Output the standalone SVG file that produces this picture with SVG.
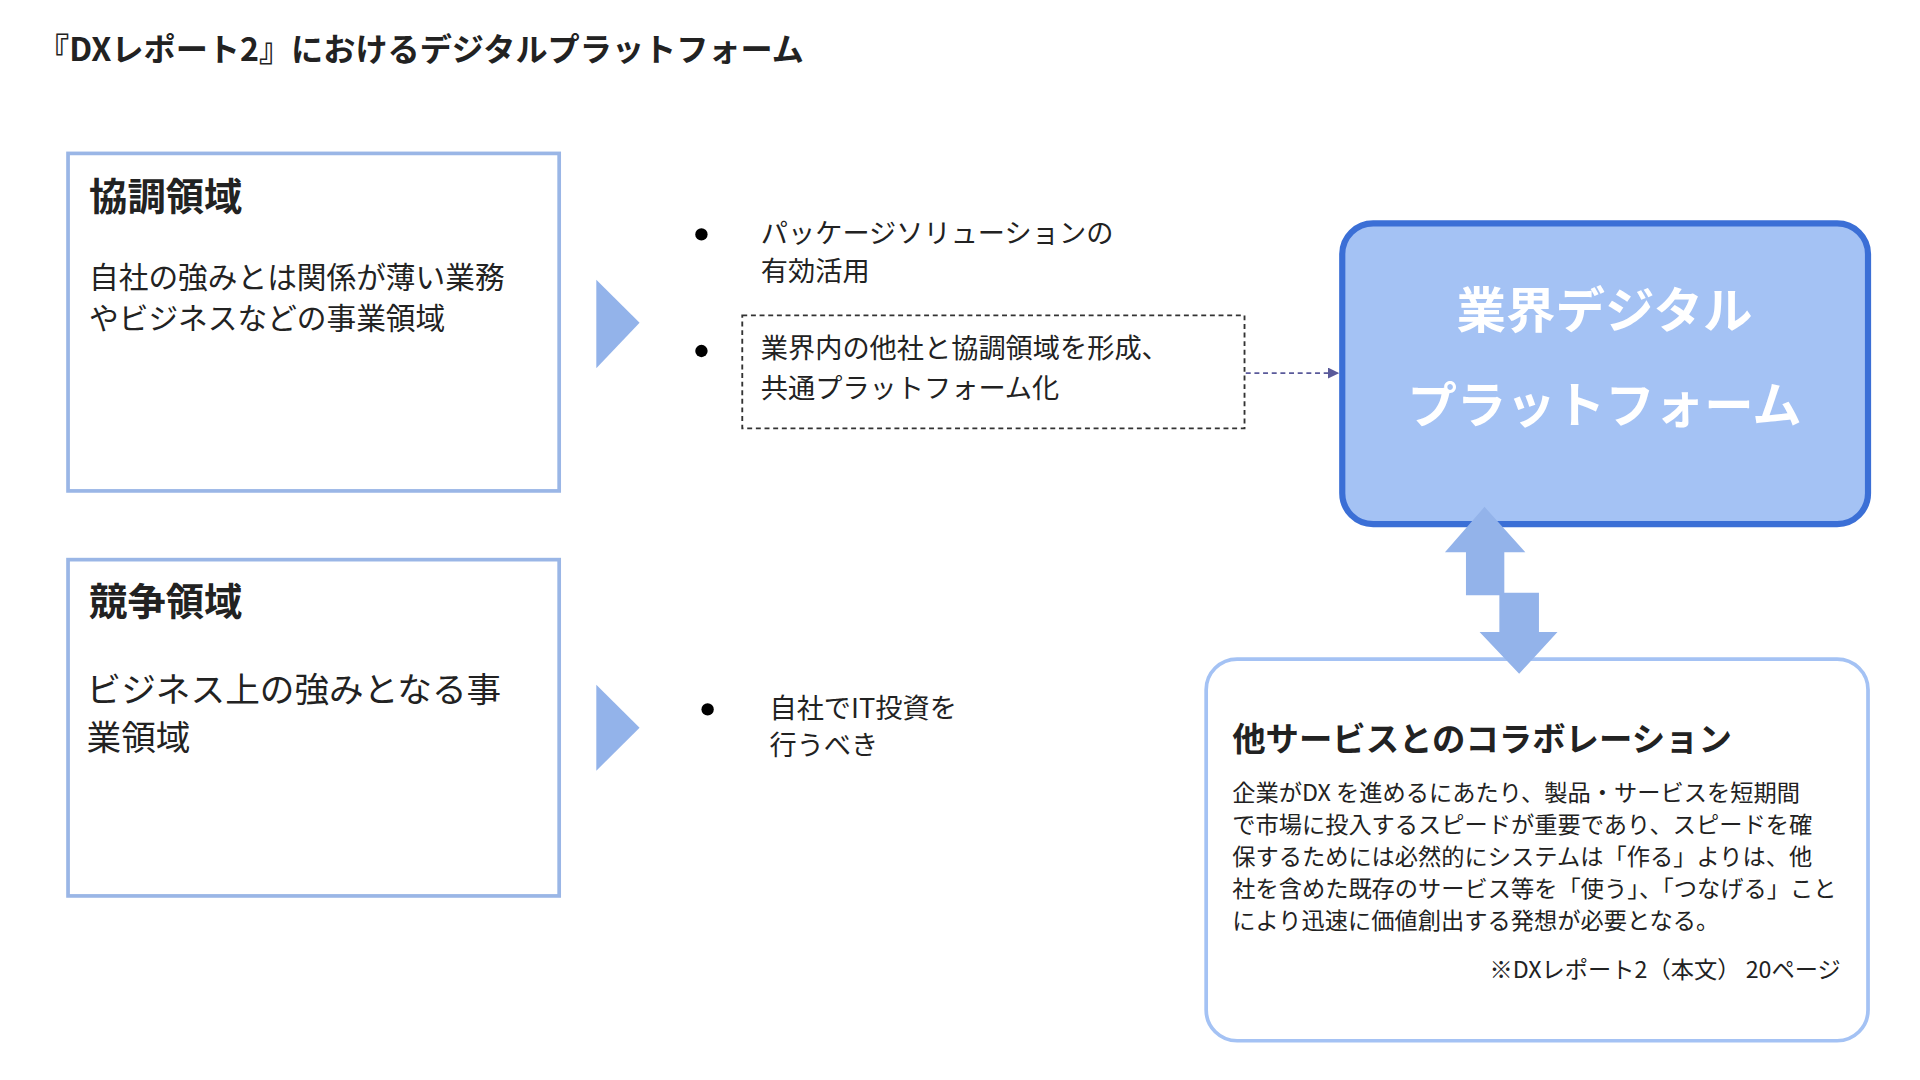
<svg xmlns="http://www.w3.org/2000/svg" width="1920" height="1080" viewBox="0 0 1920 1080">
<style>
text{font-family:"Noto Sans CJK JP","Liberation Sans",sans-serif;fill:#222}
.b{font-weight:bold}
.box{fill:#fff;stroke:#9ab6e6;stroke-width:3}
.tri{fill:#93b3ea}
.t22{font-size:22px}
.t18{font-size:18.8px}
</style>
<defs><marker id="ah" markerWidth="6" markerHeight="6" refX="5" refY="3" orient="auto"><path d="M0,0 L6,3 L0,6 Z" fill="#5a5a9a"/></marker></defs>
<rect width="1920" height="1080" fill="#fff"/>
<g transform="scale(1.2371,1.2273)">
<text x="30" y="50" class="b" font-size="26">『DXレポート2』におけるデジタルプラットフォーム</text>
<g id="kyocho">
<rect x="55" y="125" width="397" height="275" class="box"/>
<text x="72" y="171" class="b" font-size="31">協調領域</text>
<text x="72" y="235" font-size="24">自社の強みとは関係が薄い業務</text>
<text x="72" y="268" font-size="24">やビジネスなどの事業領域</text>
</g>
<g id="kyoso">
<rect x="55" y="456" width="397" height="274" class="box"/>
<text x="72" y="501" class="b" font-size="31">競争領域</text>
<text x="70" y="572" font-size="28">ビジネス上の強みとなる事</text>
<text x="70" y="611" font-size="28">業領域</text>
</g>
<g id="arrow1"><polygon points="482,228 517,263 482,300" class="tri"/></g>
<g id="arrow2"><polygon points="482,558 517,593 482,628" class="tri"/></g>
<g id="bullets1">
<circle cx="567" cy="191" r="5" fill="#000"/>
<text x="615" y="198" class="t22">パッケージソリューションの</text>
<text x="615" y="229" class="t22">有効活用</text>
</g>
<g id="dashedbox">
<rect x="600" y="257" width="406" height="92" fill="none" stroke="#333" stroke-width="1.5" stroke-dasharray="4,3"/>
<circle cx="567" cy="286" r="5" fill="#000"/>
<text x="615" y="292" class="t22">業界内の他社と協調領域を形成、</text>
<text x="615" y="324" class="t22">共通プラットフォーム化</text>
</g>
<g id="bullets2">
<circle cx="572" cy="578" r="5" fill="#000"/>
<text x="622" y="585" class="t22">自社でIT投資を</text>
<text x="622" y="615" class="t22">行うべき</text>
</g>
<g id="platform">
<rect x="1085" y="182" width="425" height="245" rx="25" fill="#a4c2f4" stroke="#3b6fd6" stroke-width="5"/>
<text x="1297" y="267" text-anchor="middle" class="b" font-size="40" style="fill:#fff">業界デジタル</text>
<text x="1297" y="345" text-anchor="middle" class="b" font-size="40" style="fill:#fff">プラットフォーム</text>
</g>
<g id="collab">
<rect x="975" y="537" width="535" height="311" rx="25" fill="#fff" stroke="#a4c2f4" stroke-width="3"/>
<text x="996" y="612" class="b" font-size="27">他サービスとのコラボレーション</text>
<text x="996" y="653" class="t18">企業がDX を進めるにあたり、製品・サービスを短期間</text>
<text x="996" y="679" class="t18">で市場に投入するスピードが重要であり、スピードを確</text>
<text x="996" y="705" class="t18">保するためには必然的にシステムは「作る」よりは、他</text>
<text x="996" y="731" class="t18">社を含めた既存のサービス等を「使う」、「つなげる」こと</text>
<text x="996" y="757" class="t18">により迅速に価値創出する発想が必要となる。</text>
<text x="1488" y="797" text-anchor="end" class="t18">※DXレポート2（本文） 20ページ</text>
</g>
<g id="connectors">
<line x1="1007" y1="304" x2="1081" y2="304" stroke="#5a5a9a" stroke-width="1.5" stroke-dasharray="4,3" marker-end="url(#ah)"/>
<polygon points="1200,413 1233,450 1216,450 1216,485 1185,485 1185,450 1168,450" fill="#93b3ea"/>
<polygon points="1228,549 1259,515 1244,515 1244,483 1212,483 1212,515 1196,515" fill="#93b3ea"/>
</g>
</g>
</svg>
